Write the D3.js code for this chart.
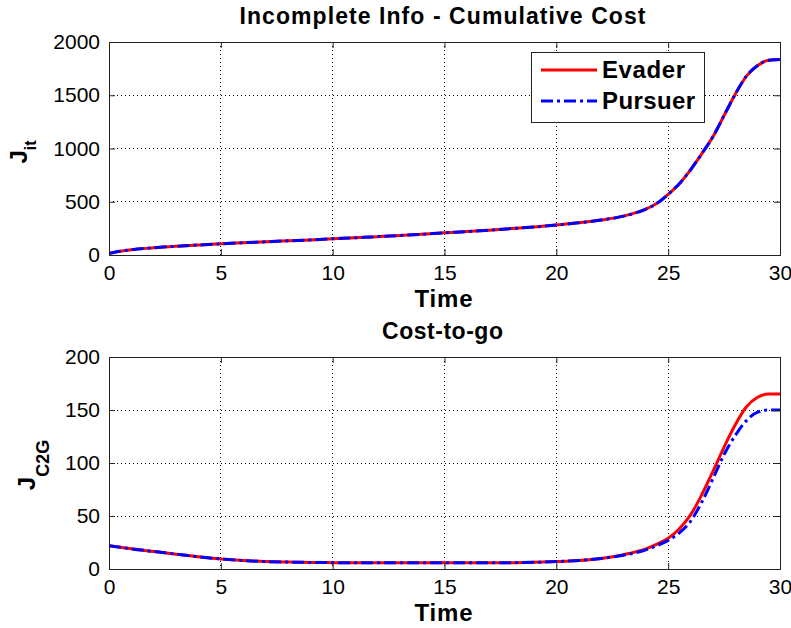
<!DOCTYPE html>
<html><head><meta charset="utf-8">
<script src="https://cdn.jsdelivr.net/npm/d3@7"></script>
<style>body{margin:0;background:#fff}svg{display:block}text{font-family:"Liberation Sans",Arial,sans-serif}</style>
</head><body><svg id="c" width="791" height="628"></svg>
<script>
const time = [0,0.5,1,2,3,4,5,6,7,8,9,10,11,12,13,14,15,16,17,18,19,20,21,22,23,24,24.5,25,25.5,26,26.5,27,27.5,28,28.5,29,29.5,30];
const evaderCum = [15,35,50,68,82,94,105,115,124,133,142,152,162,172,183,195,208,220,233,248,263,282,302,328,365,430,485,570,670,800,950,1110,1310,1510,1680,1780,1828,1835];
const pursuerCum = [15,35,50,68,82,94,105,115,124,133,142,152,162,172,183,195,208,220,233,248,263,282,302,328,365,430,485,570,670,800,950,1110,1310,1510,1680,1780,1828,1835];
const evaderC2G = [22,20.5,19,16.5,14,11.5,9.5,8,7,6.5,6.2,6,6,6,6,6,6,6,6,6,6.3,7,8,10,13.5,19,23.5,29,38,51,70,92,115,136,153,162,165,165];
const pursuerC2G = [22,20.5,19,16.5,14,11.5,9.5,8,7,6.5,6.2,6,6,6,6,6,6,6,6,6,6.3,7,8,10,13,18,22,27,34,45,63,85,108,126,140,148,150,150];
const xTicks = [0,5,10,15,20,25,30];
const yTicksTop = [0,500,1000,1500,2000];
const yTicksBot = [0,50,100,150,200];
const seriesNames = ["Evader","Pursuer"];

const svg = d3.select("#c");
const L = 109, R = 780;
const fmt = d3.format("d");

function panel(cfg){
  const x = d3.scaleLinear().domain([0,30]).range([L,R]);
  const y = d3.scaleLinear().domain(cfg.ydom).range([cfg.bottom,cfg.top]);
  const g = svg.append("g");
  g.selectAll(".gx").data(xTicks.slice(1,-1)).enter().append("line")
    .attr("x1",d=>x(d)).attr("x2",d=>x(d)).attr("y1",cfg.top).attr("y2",cfg.bottom)
    .attr("stroke","#000").attr("stroke-width",1).attr("stroke-dasharray","1,3").attr("shape-rendering","crispEdges");
  g.selectAll(".gy").data(cfg.yticks.slice(1,-1)).enter().append("line")
    .attr("x1",L).attr("x2",R).attr("y1",d=>y(d)).attr("y2",d=>y(d))
    .attr("stroke","#000").attr("stroke-width",1).attr("stroke-dasharray","1,3").attr("shape-rendering","crispEdges");
  const clipId = "clip"+cfg.top;
  svg.append("clipPath").attr("id",clipId).append("rect").attr("x",L).attr("y",cfg.top-3).attr("width",R-L).attr("height",cfg.bottom-cfg.top+3);
  const line = d3.line().x((d,i)=>x(time[i])).y(d=>y(d)).curve(d3.curveMonotoneX);
  const lg = g.append("g").attr("clip-path",`url(#${clipId})`);
  lg.append("path").attr("d",line(cfg.ev)).attr("fill","none").attr("stroke","#ff0000").attr("stroke-width",3);
  lg.append("path").attr("d",line(cfg.pu)).attr("fill","none").attr("stroke","#0000ff").attr("stroke-width",3).attr("stroke-dasharray","12,4,3,4");
  const ax = g.append("g").attr("transform",`translate(0,${cfg.bottom})`).call(d3.axisBottom(x).tickValues(xTicks).tickFormat(fmt).tickSizeInner(-6).tickSizeOuter(0).tickPadding(10));
  const axt = g.append("g").attr("transform",`translate(0,${cfg.top})`).call(d3.axisTop(x).tickValues(xTicks).tickSizeInner(-6).tickSizeOuter(0).tickFormat(""));
  const ay = g.append("g").attr("transform",`translate(${L},0)`).call(d3.axisLeft(y).tickValues(cfg.yticks).tickFormat(fmt).tickSizeInner(-6).tickSizeOuter(0).tickPadding(9));
  const ayr = g.append("g").attr("transform",`translate(${R},0)`).call(d3.axisRight(y).tickValues(cfg.yticks).tickSizeInner(-6).tickSizeOuter(0).tickFormat(""));
  [ax,axt,ay,ayr].forEach(a=>{a.select(".domain").remove();a.selectAll("line").attr("stroke","#222");});
  [ax,ay].forEach(a=>a.selectAll("text").attr("font-size",21).attr("fill","#000").style("font-family","'Liberation Sans',Arial,sans-serif"));
  ax.selectAll("text").attr("dy","0.72em");
  g.append("rect").attr("x",L).attr("y",cfg.top).attr("width",R-L).attr("height",cfg.bottom-cfg.top)
    .attr("fill","none").attr("stroke","#222").attr("stroke-width",1).attr("shape-rendering","crispEdges");
  g.append("text").attr("x",(L+R)/2-2).attr("y",cfg.top-18).attr("text-anchor","middle")
    .attr("font-size",23).attr("font-weight","bold").attr("textLength",cfg.titleLen).attr("lengthAdjust","spacing").text(cfg.title);
  g.append("text").attr("x",(L+R)/2-1).attr("y",cfg.bottom+52).attr("text-anchor","middle")
    .attr("font-size",24).attr("font-weight","bold").attr("textLength",58).attr("lengthAdjust","spacing").text("Time");
  const yl = g.append("text").attr("transform",`translate(${cfg.ylx},${cfg.yly}) rotate(-90)`).attr("text-anchor","middle").attr("font-weight","bold");
  yl.append("tspan").attr("font-size",24).text("J");
  yl.append("tspan").attr("font-size",cfg.subSize).attr("dy",cfg.subDy).text(cfg.sub);
  return {x,y,g};
}

panel({top:42,bottom:255,ydom:[0,2000],yticks:yTicksTop,ev:evaderCum,pu:pursuerCum,
  title:"Incomplete Info - Cumulative Cost",titleLen:406,ylx:27,yly:152,sub:"it",subSize:16,subDy:9});
panel({top:357,bottom:569,ydom:[0,200],yticks:yTicksBot,ev:evaderC2G,pu:pursuerC2G,
  title:"Cost-to-go",titleLen:121,ylx:35,yly:465,sub:"C2G",subSize:18,subDy:14});

const leg = svg.append("g");
leg.append("rect").attr("x",531).attr("y",52).attr("width",173).attr("height",70).attr("fill","#fff").attr("stroke","#222").attr("stroke-width",1).attr("shape-rendering","crispEdges");
const legY = [70,101], legCol = ["#ff0000","#0000ff"], legDash = [null,"12,4,3,4"], legLen=[83,93];
seriesNames.forEach((n,i)=>{
  leg.append("line").attr("x1",541).attr("x2",597).attr("y1",legY[i]).attr("y2",legY[i]).attr("stroke",legCol[i]).attr("stroke-width",3).attr("stroke-dasharray",legDash[i]);
  leg.append("text").attr("x",602).attr("y",legY[i]+8).attr("font-size",24).attr("font-weight","bold").attr("textLength",legLen[i]).attr("lengthAdjust","spacing").text(n);
});
</script></body></html>
